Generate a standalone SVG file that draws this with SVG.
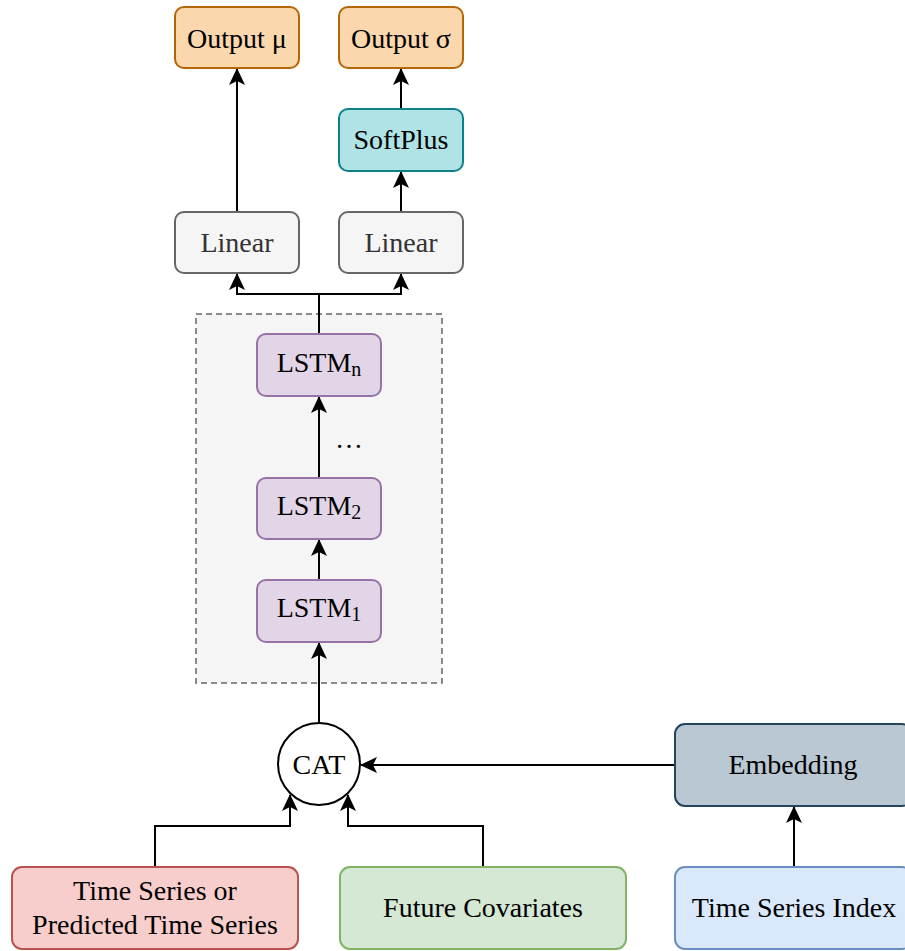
<svg xmlns="http://www.w3.org/2000/svg" width="905" height="951" viewBox="0 0 905 951">
  <style>
    .box { stroke-width: 2; }
    .lbl { font-family: "Liberation Serif", "Times New Roman", serif; font-size: 28px; fill: #000; text-anchor: middle; dominant-baseline: central; }
    .dark { fill: #333333; }
    .sub { font-size: 20px; }
    .edge { fill: none; stroke: #000; stroke-width: 2; marker-end: url(#arr); }
    .orange { fill: #fad7ac; stroke: #b46504; }
    .teal { fill: #b0e3e6; stroke: #0e8088; }
    .gray { fill: #f5f5f5; stroke: #666666; }
    .purple { fill: #e1d5e7; stroke: #9673a6; }
    .red { fill: #f8cecc; stroke: #b85450; }
    .green { fill: #d5e8d4; stroke: #82b366; }
    .blue { fill: #dae8fc; stroke: #6c8ebf; }
    .slate { fill: #bac8d3; stroke: #23445d; }
  </style>
  <defs>
    <marker id="arr" viewBox="0 0 17 16" refX="16" refY="8" markerWidth="17" markerHeight="16" markerUnits="userSpaceOnUse" orient="auto">
      <path d="M0,0 L17,8 L0,16 L4,8 Z" fill="#000"/>
    </marker>
  </defs>

  <rect width="905" height="951" fill="#fff"/>

  <!-- stacked LSTM container -->
  <g id="lstm-stack">
    <rect x="196" y="314" width="246" height="369" fill="#f5f5f5" stroke="#666666" stroke-width="1.5" stroke-dasharray="6 4"/>
  </g>

  <g id="connectors">
    <path class="edge" d="M237,212 V69"/>
    <path class="edge" d="M401,109 V69"/>
    <path class="edge" d="M401,212 V172"/>
    <path class="edge" d="M319,334 V294 H237 V274"/>
    <path class="edge" d="M319,294 H401 V274"/>
    <path class="edge" d="M319,478 V397"/>
    <path class="edge" d="M319,580 V540"/>
    <path class="edge" d="M319,723 V643"/>
    <path class="edge" d="M675,765 H361"/>
    <path class="edge" d="M794,867 V807"/>
    <path class="edge" d="M155,867 V826 H290 V795"/>
    <path class="edge" d="M483,867 V826 H348 V795"/>
  </g>

  <g id="output-mu">
    <rect class="box orange" x="175" y="7" width="124" height="61" rx="9"/>
    <text class="lbl" x="237" y="38">Output μ</text>
  </g>
  <g id="output-sigma">
    <rect class="box orange" x="339" y="7" width="124" height="61" rx="9"/>
    <text class="lbl" x="401" y="38">Output σ</text>
  </g>
  <g id="softplus">
    <rect class="box teal" x="339" y="109" width="124" height="62" rx="9"/>
    <text class="lbl" x="401" y="139">SoftPlus</text>
  </g>
  <g id="linear-mu">
    <rect class="box gray" x="175" y="212" width="124" height="61" rx="9"/>
    <text class="lbl dark" x="237" y="242">Linear</text>
  </g>
  <g id="linear-sigma">
    <rect class="box gray" x="339" y="212" width="124" height="61" rx="9"/>
    <text class="lbl dark" x="401" y="242">Linear</text>
  </g>
  <g id="lstm-n">
    <rect class="box purple" x="257" y="334" width="124" height="62" rx="9"/>
    <text class="lbl" x="319" y="362">LSTM<tspan class="sub" dy="7">n</tspan></text>
  </g>
  <g id="ellipsis">
    <text class="lbl" x="349" y="438">…</text>
  </g>
  <g id="lstm-2">
    <rect class="box purple" x="257" y="478" width="124" height="61" rx="9"/>
    <text class="lbl" x="319" y="505">LSTM<tspan class="sub" dy="7">2</tspan></text>
  </g>
  <g id="lstm-1">
    <rect class="box purple" x="257" y="580" width="124" height="62" rx="9"/>
    <text class="lbl" x="319" y="607">LSTM<tspan class="sub" dy="7">1</tspan></text>
  </g>
  <g id="cat">
    <circle cx="319" cy="764" r="41" fill="#fff" stroke="#000" stroke-width="2"/>
    <text class="lbl" x="319" y="764">CAT</text>
  </g>
  <g id="embedding">
    <rect class="box slate" x="675" y="724" width="237" height="82" rx="10"/>
    <text class="lbl" x="793" y="764">Embedding</text>
  </g>
  <g id="time-series">
    <rect class="box red" x="12" y="867" width="286" height="82" rx="10"/>
    <text class="lbl" x="155" y="890">Time Series or</text>
    <text class="lbl" x="155" y="924">Predicted Time Series</text>
  </g>
  <g id="future-covariates">
    <rect class="box green" x="340" y="867" width="286" height="82" rx="10"/>
    <text class="lbl" x="483" y="907">Future Covariates</text>
  </g>
  <g id="series-index">
    <rect class="box blue" x="675" y="867" width="237" height="82" rx="10"/>
    <text class="lbl" x="794" y="907">Time Series Index</text>
  </g>
</svg>
